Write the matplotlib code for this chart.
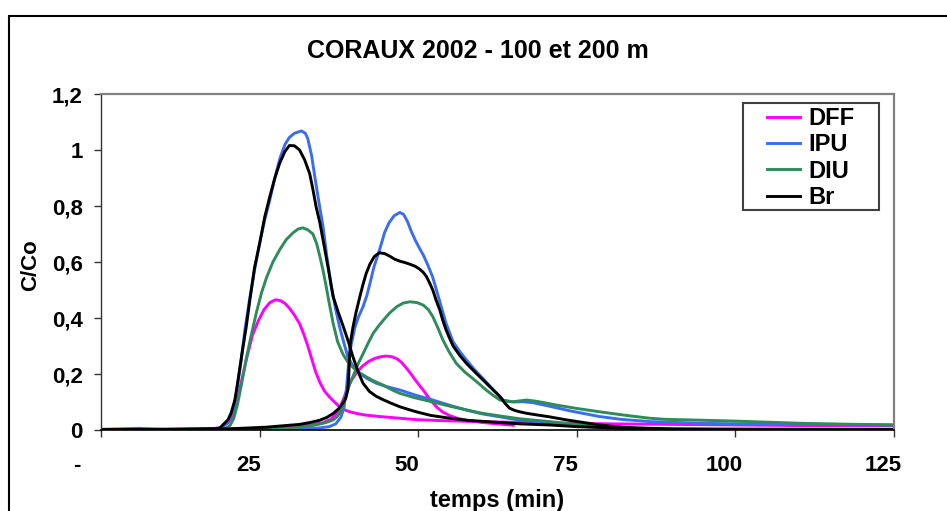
import matplotlib
matplotlib.use("Agg")
import matplotlib.pyplot as plt
import matplotlib.transforms as mtransforms
from matplotlib.patches import Rectangle

plt.rcParams['font.family'] = ['Liberation Sans', 'DejaVu Sans']
plt.rcParams['font.weight'] = 'bold'

# time (min) and C/Co, 100 m and 200 m stations
t_dff_100 = [0, 5, 10, 15, 18, 19, 20, 20.8, 21.5, 22.2, 23.0, 23.9, 24.8, 25.7, 26.6, 27.5, 28.3, 29.0,
             29.7, 30.5, 31.3, 32.0, 32.6, 33.2, 33.8, 34.5, 35.2, 36.0, 36.8, 37.6, 38.4, 39.2, 40.5,
             41.8, 44, 47.1, 49.7, 53, 57.6, 62, 66, 70, 80, 90, 100, 110, 125]
dff_100 = [0.002, 0.002, 0.003, 0.004, 0.006, 0.01, 0.025, 0.05, 0.11, 0.18, 0.26, 0.34, 0.39, 0.43, 0.455, 0.465, 0.462, 0.452,
           0.435, 0.41, 0.38, 0.34, 0.3, 0.255, 0.21, 0.17, 0.14, 0.118, 0.1, 0.083, 0.072, 0.065, 0.058,
           0.053, 0.048, 0.042, 0.037, 0.034, 0.031, 0.029, 0.027, 0.025, 0.022, 0.02, 0.018, 0.016, 0.015]

t_dff_200 = [0, 10, 20, 25, 30, 33, 35, 36.2, 37.0, 37.6, 38.2, 38.8, 39.5, 40.3, 41.2, 42.2, 43.2, 44.2,
             45.0, 45.8, 46.6, 47.3, 48.0, 48.7, 49.4, 50.1, 50.8, 51.5, 52.2, 53.0, 53.8, 55.0, 56.3,
             57.6, 60, 62.9, 65]
dff_200 = [0.002, 0.002, 0.003, 0.006, 0.012, 0.018, 0.026, 0.038, 0.055, 0.075, 0.11, 0.145, 0.178, 0.205, 0.228, 0.245, 0.256, 0.262,
           0.264, 0.262, 0.255, 0.243, 0.225, 0.205, 0.183, 0.162, 0.142, 0.12, 0.1, 0.08, 0.065, 0.051, 0.041,
           0.035, 0.027, 0.021, 0.017]

t_ipu_100 = [0, 3, 6, 9, 12, 15, 18, 19.2, 20.0, 20.8, 21.4, 22.1, 22.7, 23.4, 24.2, 25.0, 25.8, 26.6,
             27.4, 28.2, 29.0, 29.7, 30.5, 31.6, 32.2, 32.6, 33.2, 33.7, 34.3, 35.0, 35.6, 36.3, 37.0,
             37.6, 38.3, 38.9, 39.8, 40.8, 42.0, 43.4, 45.0, 47.1, 49.5, 52.3, 55, 57.6, 60, 62.9, 66,
             70.7, 74, 78, 85, 95, 125]
ipu_100 = [0.002, 0.004, 0.006, 0.003, 0.002, 0.003, 0.004, 0.01, 0.03, 0.065, 0.14, 0.25, 0.36, 0.464, 0.57, 0.667, 0.75, 0.821,
           0.9, 0.97, 1.02, 1.045, 1.06, 1.068, 1.06, 1.04, 0.98, 0.905, 0.82, 0.726, 0.62, 0.512, 0.43,
           0.369, 0.31, 0.262, 0.225, 0.202, 0.183, 0.167, 0.155, 0.143, 0.125, 0.107, 0.088, 0.071, 0.058, 0.047, 0.035,
           0.024, 0.016, 0.01, 0.003, 0.001, 0.0]

t_ipu_200 = [0, 10, 20, 30, 34, 36, 37.0, 37.8, 38.3, 38.7, 39.0, 39.4, 40.0, 40.6, 41.3, 41.9, 42.4, 43.0,
             43.9, 44.7, 45.4, 46.2, 47.1, 47.7, 48.3, 48.9, 49.6, 50.3, 50.8, 51.5, 52.3, 53.0, 53.7,
             54.4, 55.5, 56.5, 57.6, 58.9, 60.2, 61.8, 63.4, 65, 66.5, 68, 70.7, 74, 78.6, 82, 86.5,
             94.4, 100, 110.2, 125]
ipu_200 = [0.0, 0.0, 0.001, 0.003, 0.006, 0.012, 0.022, 0.045, 0.08, 0.15, 0.23, 0.3, 0.365, 0.405, 0.44, 0.48, 0.524, 0.58,
           0.643, 0.705, 0.74, 0.765, 0.777, 0.77, 0.745, 0.71, 0.675, 0.645, 0.625, 0.59, 0.545, 0.49, 0.435,
           0.38, 0.315, 0.282, 0.25, 0.215, 0.184, 0.145, 0.107, 0.1, 0.101, 0.098, 0.085, 0.068, 0.048, 0.038, 0.03,
           0.024, 0.022, 0.02, 0.018]

t_diu_100 = [0, 10, 15, 19.0, 19.7, 20.3, 20.9, 21.5, 22.2, 22.9, 23.7, 24.5, 25.3, 26.1, 27.1, 28.2, 29.2,
             30.3, 31.1, 31.8, 32.6, 33.4, 34.0, 34.5, 35.0, 35.5, 36.0, 36.6, 37.3, 38.15, 39.0, 39.7,
             40.7, 41.8, 43.0, 44.5, 46, 47.1, 49.5, 52.3, 55, 57.6, 60, 62.9, 66, 70.7, 75, 80, 90, 100, 125]
diu_100 = [0.001, 0.001, 0.002, 0.003, 0.006, 0.015, 0.04, 0.09, 0.17, 0.255, 0.34, 0.42, 0.49, 0.545, 0.6, 0.645, 0.68,
           0.705, 0.718, 0.722, 0.715, 0.7, 0.665, 0.62, 0.57, 0.512, 0.45, 0.38, 0.315, 0.27, 0.24, 0.224,
           0.205, 0.19, 0.175, 0.16, 0.142, 0.131, 0.115, 0.1, 0.085, 0.072, 0.06, 0.05, 0.04, 0.03, 0.02, 0.012, 0.004, 0.001, 0.0]

t_diu_200 = [0, 20, 30, 33.9, 35.5, 36.6, 37.2, 37.6, 38.2, 38.7, 39.2, 39.7, 40.5, 41.3, 42.1, 42.9, 43.7,
             44.5, 45.5, 46.6, 47.6, 48.7, 49.8, 50.8, 51.6, 52.3, 53.1, 53.9, 54.9, 56.0, 57.3, 58.6,
             59.7, 60.7, 61.8, 62.9, 64.0, 65.0, 66.0, 67.1, 68.5, 70, 71.8, 75, 78.6, 82.5, 86.5, 89,
             92.8, 99.6, 105, 110.2, 117, 125]
diu_200 = [0.0, 0.001, 0.006, 0.018, 0.027, 0.036, 0.047, 0.06, 0.09, 0.13, 0.165, 0.19, 0.235, 0.272, 0.31, 0.345, 0.37,
           0.392, 0.418, 0.44, 0.453, 0.458, 0.455, 0.446, 0.43, 0.405, 0.365, 0.321, 0.278, 0.238, 0.208, 0.184,
           0.163, 0.143, 0.124, 0.107, 0.102, 0.101, 0.104, 0.107, 0.103, 0.097, 0.089, 0.077, 0.065, 0.053, 0.042, 0.038,
           0.036, 0.032, 0.028, 0.024, 0.021, 0.018]

t_br_100 = [0, 10, 15, 18.0, 18.7, 19.2, 20.0, 20.5, 21.1, 21.6, 22.2, 22.9, 23.5, 24.2, 25.0, 25.8, 26.6,
            27.4, 28.2, 29.0, 29.7, 30.5, 31.3, 32.1, 32.9, 33.4, 33.9, 34.5, 35.0, 35.8, 36.6, 37.4,
            38.2, 39.0, 39.7, 40.5, 41.3, 42.3, 43.4, 44.5, 45.8, 47.1, 48.5, 49.7, 52, 55, 57.6, 62,
            66, 70.7, 75, 80, 85, 90, 125]
br_100 = [0.002, 0.002, 0.003, 0.004, 0.006, 0.018, 0.036, 0.06, 0.107, 0.178, 0.27, 0.37, 0.47, 0.58, 0.665, 0.76, 0.833,
          0.9, 0.955, 0.995, 1.016, 1.015, 1.0, 0.965, 0.915, 0.86, 0.798, 0.74, 0.679, 0.58, 0.476, 0.42,
          0.369, 0.315, 0.262, 0.21, 0.167, 0.138, 0.12, 0.108, 0.095, 0.083, 0.073, 0.065, 0.052, 0.042, 0.035, 0.028,
          0.022, 0.018, 0.012, 0.008, 0.005, 0.003, 0.002]

t_br_200 = [0, 10, 20, 26, 31.3, 33, 34.5, 35.6, 36.6, 37.4, 38.1, 38.6, 38.9, 39.05, 39.15, 39.3, 39.7,
            40.2, 40.8, 41.3, 41.8, 42.4, 43.1, 43.9, 44.7, 45.5, 46.3, 47.1, 47.9, 48.7, 49.5, 50.2,
            50.8, 51.3, 51.8, 52.3, 52.8, 53.4, 53.9, 54.4, 55.0, 55.5, 56.5, 57.6, 58.9, 60.2, 61.5,
            62.9, 63.7, 64.4, 65.2, 66.0, 67.0, 68.1, 70.7, 73.4, 76, 78.6, 81, 83.9, 90, 125]
br_200 = [0.002, 0.002, 0.004, 0.01, 0.02, 0.027, 0.035, 0.045, 0.059, 0.075, 0.095, 0.115, 0.143, 0.19, 0.25, 0.31, 0.365,
          0.42, 0.476, 0.52, 0.559, 0.593, 0.62, 0.633, 0.63, 0.621, 0.61, 0.603, 0.598, 0.592, 0.585, 0.575,
          0.563, 0.548, 0.525, 0.5, 0.465, 0.429, 0.39, 0.357, 0.325, 0.3, 0.268, 0.238, 0.208, 0.179, 0.15,
          0.119, 0.095, 0.078, 0.07, 0.065, 0.06, 0.056, 0.047, 0.036, 0.027, 0.018, 0.012, 0.007, 0.003, 0.002]

xticks = [0, 25, 50, 75, 100, 125]
xtick_labels = ['-', '25', '50', '75', '100', '125']
yticks = [0, 0.2, 0.4, 0.6, 0.8, 1.0, 1.2]
ytick_labels = ['0', '0,2', '0,4', '0,6', '0,8', '1', '1,2']

c_dff = '#ff00ff'
c_ipu = '#3a6cf4'
c_diu = '#2e8b5a'
c_br = '#000000'
lw = 2.1

fig = plt.figure(figsize=(9.47, 5.11), dpi=100)
ax = fig.add_axes([101/947, 1-430/511, 793/947, 336/511])

ax.plot(t_dff_100, dff_100, color=c_dff, lw=lw, label='DFF')
ax.plot(t_dff_200, dff_200, color=c_dff, lw=lw)
ax.plot(t_ipu_100, ipu_100, color=c_ipu, lw=lw, label='IPU')
ax.plot(t_ipu_200, ipu_200, color=c_ipu, lw=lw)
ax.plot(t_diu_100, diu_100, color=c_diu, lw=lw, label='DIU')
ax.plot(t_diu_200, diu_200, color=c_diu, lw=lw)
ax.plot(t_br_100, br_100, color=c_br, lw=lw, label='Br')
ax.plot(t_br_200, br_200, color=c_br, lw=lw)

ax.set_xlim(0, 125)
ax.set_ylim(0, 1.2)
ax.set_xticks(xticks)
ax.set_xticklabels(xtick_labels)
ax.set_yticks(yticks)
ax.set_yticklabels(ytick_labels)

ax.tick_params(axis='x', direction='out', length=5, width=1, color='#333333', labelsize=16, pad=13)
ax.tick_params(axis='y', direction='out', length=5, width=1, color='#333333', labelsize=16, pad=8)

# labels sit a bit left of their ticks in the original
for lab in ax.get_xticklabels():
    dx = -0.24 if lab.get_text() == '-' else -0.11
    lab.set_transform(lab.get_transform() + mtransforms.ScaledTranslation(dx, 0, fig.dpi_scale_trans))

for s in ['top', 'right']:
    ax.spines[s].set_color('#808080')
    ax.spines[s].set_linewidth(1.6)
ax.spines['left'].set_color('#333333')
ax.spines['bottom'].set_color('#000000')
ax.spines['left'].set_linewidth(1)
ax.spines['bottom'].set_linewidth(1.2)

ax.set_xlabel('temps (min)', fontsize=17, fontweight='bold')
ax.xaxis.set_label_coords(0.5, -0.175)
ax.set_ylabel('C/Co', fontsize=16, fontweight='bold')
ax.yaxis.set_label_coords(-0.075, 0.49)

# legend without its own frame; the box is drawn separately, wider than the entries
leg = ax.legend(loc='upper left', bbox_to_anchor=((767-101)/793, (430-107)/336), borderaxespad=0,
                fontsize=17, frameon=False, handlelength=1.4, handletextpad=0.35,
                labelspacing=0.14, borderpad=0)
for txt in leg.get_texts():
    txt.set_fontweight('bold')
ax.add_patch(Rectangle(((743-101)/793, (430-210)/336), 136/793, 107/336, transform=ax.transAxes,
                       fill=False, lw=1.5, ec='#404040', zorder=5, clip_on=False))

fig.text(0.505, 1-50.5/511, 'CORAUX 2002 - 100 et 200 m', ha='center', va='center',
         fontsize=18, fontweight='bold')

# chart area border, running off the right and bottom edges
fig.add_artist(Rectangle((9/947, -0.1), 1.2, 1.1-16/511, transform=fig.transFigure,
                         fill=False, lw=1.5, ec='#000000', clip_on=False))

fig.savefig('out.png', dpi=100)
